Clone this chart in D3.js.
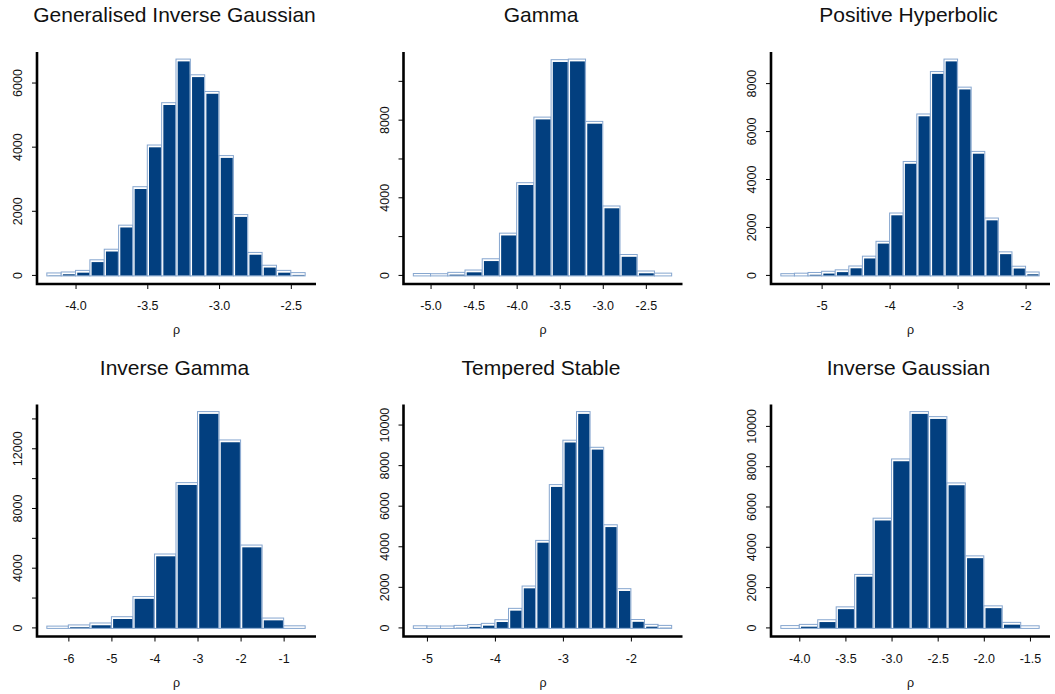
<!DOCTYPE html>
<html>
<head>
<meta charset="utf-8">
<script src="https://cdn.jsdelivr.net/npm/d3@7"></script>
<style>
  body { margin: 0; background: #fff; }
  text { font-family: "Liberation Sans", Arial, sans-serif; fill: #111; }
</style>
</head>
<body>
<svg id="chart" width="1055" height="694"></svg>
<script>
// panel titles, in reading order
const titles = ["Generalised Inverse Gaussian", "Gamma", "Positive Hyperbolic",
                "Inverse Gamma", "Tempered Stable", "Inverse Gaussian"]

// first break and bin width of each histogram
const binStart = [-4.2, -5.2, -5.6, -6.5, -5.2, -4.2]
const binWidth = [0.1, 0.2, 0.2, 0.5, 0.2, 0.2]

// counts per bin
const countsGIG = [30, 60, 110, 440, 770, 1520, 2720, 4020, 5340, 6700, 6210, 5690, 3690, 1850, 670, 270, 110, 40]
const countsGamma = [20, 10, 80, 200, 780, 2100, 4700, 8080, 11040, 11070, 7860, 3500, 1000, 150, 40]
const countsPosHyp = [10, 30, 60, 110, 170, 330, 740, 1360, 2540, 4690, 6670, 8440, 8960, 7790, 5110, 2330, 920, 320, 80]
const countsInvGamma = [20, 100, 230, 650, 2000, 4850, 9630, 14390, 12490, 5450, 560, 40]
const countsTS = [30, 20, 20, 50, 90, 150, 330, 890, 1990, 4240, 6990, 9180, 10590, 8830, 5010, 1860, 340, 100, 50]
const countsIG = [40, 100, 330, 970, 2580, 5370, 8310, 10660, 10410, 7120, 3500, 1020, 200, 30]
const counts = [countsGIG, countsGamma, countsPosHyp, countsInvGamma, countsTS, countsIG]

// axis ticks
const xTicks = [
  [-4.0, -3.5, -3.0, -2.5],
  [-5.0, -4.5, -4.0, -3.5, -3.0, -2.5],
  [-5, -4, -3, -2],
  [-6, -5, -4, -3, -2, -1],
  [-5, -4, -3, -2],
  [-4.0, -3.5, -3.0, -2.5, -2.0, -1.5]
]
const xDecimals = [1, 1, 0, 0, 0, 1]
const yTicks = [
  [0, 2000, 4000, 6000],
  [0, 2000, 4000, 6000, 8000, 10000],
  [0, 2000, 4000, 6000, 8000],
  [0, 2000, 4000, 6000, 8000, 10000, 12000, 14000],
  [0, 2000, 4000, 6000, 8000, 10000],
  [0, 2000, 4000, 6000, 8000, 10000]
]
// only every n-th y tick gets a label (R drops the crowded ones)
const yLabelEvery = [1, 2, 1, 2, 1, 1]

const svg = d3.select("#chart")

const colLeft = [37, 403.5, 771]
const rowTop = [52, 404.5]
const plotW = 279, plotH = 232
const barFill = "#023f7f"

titles.forEach((title, i) => {
  const left = colLeft[i % 3]
  const top = rowTop[Math.floor(i / 3)]
  const bottom = top + plotH
  const right = left + plotW
  const data = counts[i]
  const lo = binStart[i]
  const hi = lo + binWidth[i] * data.length
  const maxC = d3.max(data)

  // R style: 4% padding on each side of the data range
  const x = d3.scaleLinear()
    .domain([lo - 0.04 * (hi - lo), hi + 0.04 * (hi - lo)])
    .range([left, right])
  const y = d3.scaleLinear()
    .domain([-0.04 * maxC, 1.04 * maxC])
    .range([bottom, top])

  const g = svg.append("g")

  g.append("text")
    .attr("x", (left + right) / 2 - 2)
    .attr("y", top - 30)
    .attr("text-anchor", "middle")
    .style("font-size", "21px")
    .text(title)

  const bins = data.map((c, k) => ({ x0: lo + k * binWidth[i], x1: lo + (k + 1) * binWidth[i], c }))

  // light outline behind each bar
  g.selectAll(".outer")
    .data(bins)
    .join("rect")
    .attr("class", "outer")
    .attr("x", d => x(d.x0) - 0.5)
    .attr("y", d => y(d.c) - 1.5)
    .attr("width", d => x(d.x1) - x(d.x0))
    .attr("height", d => y(0) - y(d.c) + 2)
    .attr("fill", "#ffffff")
    .attr("stroke", "#86a6cf")
    .attr("stroke-width", 1)

  // dark bar with white edge
  g.selectAll(".bar")
    .data(bins)
    .join("rect")
    .attr("class", "bar")
    .attr("x", d => x(d.x0) + 1.2)
    .attr("y", d => Math.min(y(d.c) + 0.8, y(0)))
    .attr("width", d => x(d.x1) - x(d.x0) - 2.4)
    .attr("height", d => Math.max(0, y(0) - y(d.c) - 0.8))
    .attr("fill", barFill)

  // L-shaped frame
  g.append("path")
    .attr("d", `M${left},${top}V${bottom}H${right}`)
    .attr("fill", "none")
    .attr("stroke", "#000")
    .attr("stroke-width", 2.6)

  // x ticks and labels
  g.selectAll(".xt")
    .data(xTicks[i])
    .join("line")
    .attr("x1", d => x(d)).attr("x2", d => x(d))
    .attr("y1", bottom).attr("y2", bottom + 5)
    .attr("stroke", "#000")
  g.selectAll(".xl")
    .data(xTicks[i])
    .join("text")
    .attr("x", d => x(d))
    .attr("y", bottom + 26)
    .attr("text-anchor", "middle")
    .style("font-size", "12.5px")
    .text(d => d3.format(`.${xDecimals[i]}f`)(d).replace("−", "-"))

  // y ticks and labels
  g.selectAll(".yt")
    .data(yTicks[i])
    .join("line")
    .attr("x1", left - 5).attr("x2", left)
    .attr("y1", d => y(d)).attr("y2", d => y(d))
    .attr("stroke", "#000")
  g.selectAll(".yl")
    .data(yTicks[i].filter((d, k) => k % yLabelEvery[i] == 0))
    .join("text")
    .attr("transform", d => `translate(${left - 15},${y(d)}) rotate(-90)`)
    .attr("text-anchor", "middle")
    .style("font-size", "12.5px")
    .text(d => d)

  g.append("text")
    .attr("x", (left + right) / 2)
    .attr("y", bottom + 50)
    .attr("text-anchor", "middle")
    .style("font-size", "12.5px")
    .text("ρ")
})
</script>
</body>
</html>
